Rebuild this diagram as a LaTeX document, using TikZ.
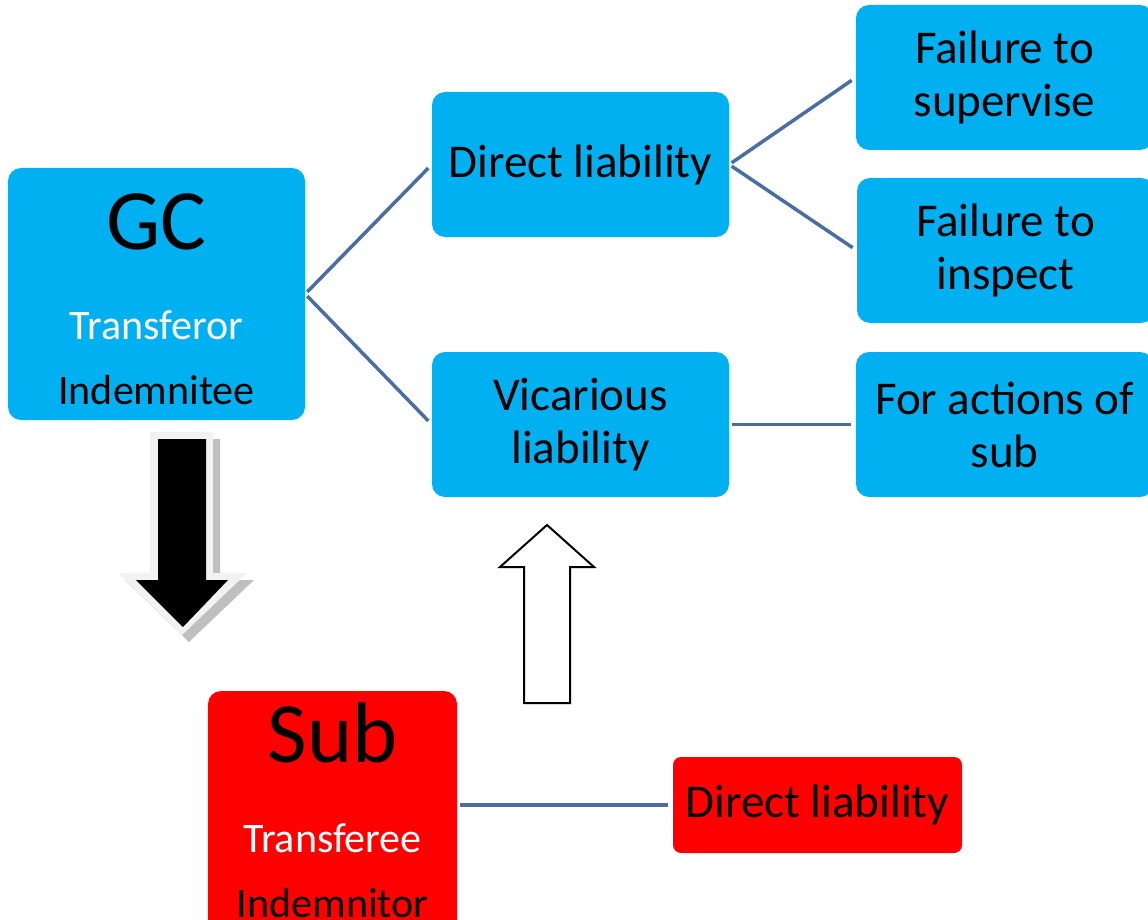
\documentclass[tikz,border=0pt]{standalone}
\usepackage{fontspec}
\setmainfont{Carlito}
\definecolor{boxblue}{HTML}{00B0F0}
\definecolor{boxred}{HTML}{FF0000}
\definecolor{linkcol}{HTML}{4A6EA0}
\definecolor{frame}{HTML}{F2F2F2}
\definecolor{shadowgray}{HTML}{BFBFBF}
\tikzset{
  box/.style={rounded corners=13pt, inner sep=0pt, text=black, align=center,
    font=\fontsize{47}{53}\selectfont},
  bluebox/.style={box, fill=boxblue},
  redbox/.style={box, fill=boxred},
  link/.style={draw=linkcol, line width=3.5pt, shorten <=3pt, shorten >=5pt},
  bigtxt/.style={font=\fontsize{86}{90}\selectfont, text=black, inner sep=0pt},
  midtxt/.style={font=\fontsize{42}{46}\selectfont, inner sep=0pt},
}
\begin{document}
\begin{tikzpicture}[x=1pt, y=-1pt]
\useasboundingbox (0,0) rectangle (1148,920);
\clip (0,0) rectangle (1148,920);
% boxes
\node[bluebox, minimum width=297pt, minimum height=252pt] (gc) at (156.5,294) {};
\node[bigtxt] (gct) at (156.5,222) {GC};
\node[midtxt, text=white] (gct2) at (156.5,325) {Transferor};
\node[midtxt, text=black] (gct3) at (156.5,390) {Indemnitee};

\node[bluebox, minimum width=297pt, minimum height=145pt] (dl) at (580.5,164.5) {Direct liability};
\node[bluebox, minimum width=297pt, minimum height=145pt] (vl) at (580.5,424.5) {Vicarious\\liability};
\node[bluebox, minimum width=297pt, minimum height=145pt] (fs) at (1004.5,77.5) {Failure to\\supervise};
\node[bluebox, minimum width=297pt, minimum height=145pt] (fi) at (1005.5,250.5) {Failure to\\inspect};
\node[bluebox, minimum width=297pt, minimum height=145pt] (fa) at (1004.5,424.5) {For actions of\\sub};

\node[redbox, minimum width=249pt, minimum height=252pt] (sub) at (332.5,817) {};
\node[bigtxt] (subt) at (332.5,733) {Sub};
\node[midtxt, text=white] (subt2) at (332.5,838) {Transferee};
\node[midtxt, text=black] (subt3) at (332.5,903) {Indemnitor};

\node[redbox, minimum width=289pt, minimum height=96pt, rounded corners=8pt] (rdl) at (817.5,805) {Direct liability};

% connectors
\draw[link] (gc.east) -- (dl.west);
\draw[link] (gc.east) -- (vl.west);
\draw[link] (dl.east) -- (fs.west);
\draw[link] (dl.east) -- (fi.west);
\draw[link] (vl.east) -- (fa.west);
\draw[link] (sub.east |- rdl.west) -- (rdl.west);

% black block arrow with frame and shadow
\fill[shadowgray] (157,439) -- (220,439) -- (220,580) -- (254,580) -- (189,642) -- (125,580) -- (157,580) -- cycle;
\fill[frame] (150,432) -- (213,432) -- (213,573) -- (247,573) -- (182,635) -- (118,573) -- (150,573) -- cycle;
\fill[black] (158,439) -- (206,439) -- (206,580) -- (228,580) -- (183,627) -- (136,580) -- (158,580) -- cycle;

% white block arrow
\draw[black, line width=2pt, fill=white, line join=miter] (524,703) -- (524,567) -- (500,567) -- (547,525) -- (594,567) -- (570,567) -- (570,703) -- cycle;
\end{tikzpicture}
\end{document}
